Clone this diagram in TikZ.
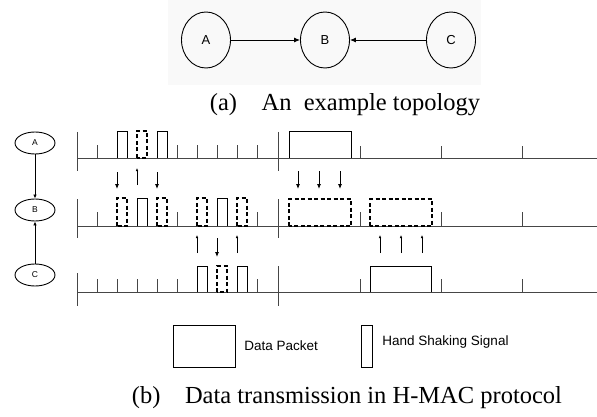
\documentclass[tikz,border=0pt]{standalone}
\usepackage{fontspec}
\setmainfont{Liberation Serif}
\setsansfont{Liberation Sans}
\usetikzlibrary{arrows.meta,shapes.geometric}
\definecolor{tint}{RGB}{249,249,249}
\definecolor{wire}{RGB}{70,70,70}
\newcommand{\timeline}[4]{\draw[wire] (77,#1)--(597,#1); \draw[wire] (77,#2)--(77,#3); \draw[wire] (278,#4)--(278,#3);}
\newcommand{\sigticks}[3]{
    \foreach \x in {#1}{
      \draw[wire] (\x,#2)--(\x,#3);
    }
}
\newcommand{\sigpulse}[3]{\draw (#1,#2)|-(#1+10,#3)--(#1+10,#2);}
\newcommand{\sigdashed}[3]{\draw[dashbox] (#1,#2) rectangle (#1+10,#3);}
\newcommand{\sigpacket}[4]{\draw (#1,#3)|-(#2,#4)--(#2,#3);}
\newcommand{\sigdown}[3]{
    \foreach \x in {#1}{
      \draw[sigdn] (\x,#2)--(\x,#3);
    }
}
\newcommand{\sigup}[3]{
    \foreach \x in {#1}{
      \draw[sigupa] (\x,#2)--(\x,#3);
    }
}
\tikzset{
  bignode/.style={draw, ellipse, minimum width=49pt, minimum height=56pt, inner sep=0pt, font=\sffamily\fontsize{13}{15}\selectfont},
  smallnode/.style={draw, ellipse, minimum width=40pt, minimum height=22pt, inner sep=0pt, font=\sffamily\fontsize{8.5}{10}\selectfont},
  link/.style={-{Latex[length=6pt,width=5pt]}, line width=0.9pt},
  smalllink/.style={-{Latex[length=4pt,width=3.5pt]}, line width=0.8pt},
  dashbox/.style={line width=1.5pt, dash pattern=on 4pt off 2.5pt},
  sigdn/.style={-{Latex[length=5pt,width=4pt]}, line width=0.8pt},
  sigupa/.style={-{Latex[length=3pt,width=2.5pt]}, line width=0.8pt},
  caption/.style={font=\fontsize{24.5}{28}\selectfont},
  keytext/.style={anchor=west, inner sep=0pt, font=\sffamily\fontsize{13.5}{16}\selectfont}
}
\begin{document}
\begin{tikzpicture}[x=1pt,y=-1pt,line width=0.9pt]
\useasboundingbox (0,0) rectangle (597,417);
\fill[tint] (168,0) rectangle (481,85);
% (a) topology
\node[bignode] (A) at (206,40) {A};
\node[bignode] (B) at (325,40) {B};
\node[bignode] (C) at (451,40) {C};
\draw[link] (A)--(B);
\draw[link] (C)--(B);
\node[caption] (capa) at (345,105) {(a)\quad An\ \ example topology};
% (b) nodes
\node[smallnode] (nA) at (35,143) {A};
\node[smallnode] (nB) at (35,210) {B};
\node[smallnode] (nC) at (35,275) {C};
\draw[smalllink] (nA)--(nB);
\draw[smalllink] (nC)--(nB);
% line A
\timeline{158}{132}{171}{132}
\sigticks{97,177,197,217,237,257}{158}{145}
\sigticks{360,441,522}{158}{146}
\sigpulse{117}{158}{131}\sigdashed{137}{158}{131}\sigpulse{157}{158}{131}
\sigpacket{289}{351}{158}{131}
% line B
\timeline{226}{199}{238}{199}
\sigticks{97,177,257,360,441,522}{226}{212}
\sigdashed{117}{226}{198}\sigpulse{137}{226}{198}\sigdashed{157}{226}{198}
\sigdashed{197}{226}{198}\sigpulse{217}{226}{198}\sigdashed{237}{226}{198}
\draw[dashbox] (289,226) rectangle (351,199);
\draw[dashbox] (370,226) rectangle (432,199);
% line C
\timeline{292}{273}{306}{266}
\sigticks{97,117,137,157,177,257,360,441,522}{292}{279}
\sigpulse{197}{292}{266}\sigdashed{217}{292}{266}\sigpulse{237}{292}{266}
\sigpacket{370}{431}{292}{266}
% handshakes and data
\sigdown{117,157}{172}{189}
\sigup{137}{185}{168}
\sigdown{298,319,340}{171}{189}
\sigup{197,237}{253}{235}
\sigdown{217}{238}{257}
\sigup{380,401,422}{253}{235}
% key
\node[draw, minimum width=62pt, minimum height=42pt, inner sep=0pt] (keydata) at (204,346) {};
\node[keytext] (keydatatext) at (244,346) {Data Packet};
\node[draw, minimum width=11pt, minimum height=42pt, inner sep=0pt] (keyhand) at (366.5,346) {};
\node[keytext] (keyhandtext) at (382,342) {Hand Shaking Signal};
\node[caption] (capb) at (347,398) {(b)\quad Data transmission in H-MAC protocol};
\end{tikzpicture}
\end{document}
